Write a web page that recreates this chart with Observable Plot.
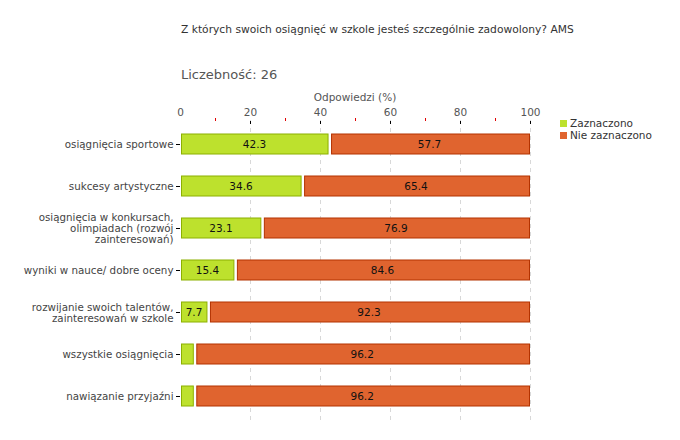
<!DOCTYPE html>
<html>
<head>
<meta charset="utf-8">
<script src="https://cdn.jsdelivr.net/npm/d3@7"></script>
<script src="https://cdn.jsdelivr.net/npm/@observablehq/plot@0.6"></script>
<style>
  body { margin: 0; background: #fff; }
  #wrap { position: relative; width: 680px; height: 440px; font-family: "DejaVu Sans", sans-serif; }
  #title { position: absolute; left: 181px; top: 23px; font-size: 10.7px; color: #333; white-space: nowrap; }
  #count { position: absolute; left: 181px; top: 67px; font-size: 13px; color: #555; white-space: nowrap; }
  #axlabel { position: absolute; left: 255px; width: 200px; text-align: center; top: 91px; font-size: 10.5px; color: #555; white-space: nowrap; }
  #legend { position: absolute; left: 560px; top: 118px; font-size: 10.5px; color: #333; }
  #legend div { height: 11.5px; line-height: 11.5px; white-space: nowrap; }
  #legend span.sw { display: inline-block; width: 7px; height: 7px; margin-right: 3px; vertical-align: 0px; }
</style>
</head>
<body>
<div id="wrap"></div>
<script>
const title = "Z których swoich osiągnięć w szkole jesteś szczególnie zadowolony? AMS";
const countLabel = "Liczebność: 26";
const axisLabel = "Odpowiedzi (%)";
const categories = [
  "osiągnięcia sportowe",
  "sukcesy artystyczne",
  "osiągnięcia w konkursach,\nolimpiadach (rozwój\nzainteresowań)",
  "wyniki w nauce/ dobre oceny",
  "rozwijanie swoich talentów,\nzainteresowań w szkole",
  "wszystkie osiągnięcia",
  "nawiązanie przyjaźni"
];
const seriesNames = ["Zaznaczono", "Nie zaznaczono"];
const zaznaczono = [42.3, 34.6, 23.1, 15.4, 7.7, 3.8, 3.8];
const nieZaznaczono = [57.7, 65.4, 76.9, 84.6, 92.3, 96.2, 96.2];
const majorTicks = [0, 20, 40, 60, 80, 100];
const minorTicks = [10, 30, 50, 70, 90];
const fills = ["#bde12d", "#e0642f"];
const strokes = ["#8cb000", "#b33200"];

const rows = [];
categories.forEach((c, i) => {
  rows.push({cat: c, series: seriesNames[0], value: zaznaczono[i], x1: 0, x2: zaznaczono[i]});
  rows.push({cat: c, series: seriesNames[1], value: nieZaznaczono[i], x1: zaznaczono[i], x2: zaznaczono[i] + nieZaznaczono[i]});
});
const first = rows.filter(d => d.series === seriesNames[0]);
const second = rows.filter(d => d.series === seriesNames[1]);

const chart = Plot.plot({
  width: 680,
  height: 440,
  marginTop: 120,
  marginBottom: 20,
  marginLeft: 180,
  marginRight: 150,
  style: {fontFamily: "DejaVu Sans, sans-serif", fontSize: "10px", color: "#444", background: "#fff"},
  x: {domain: [0, 100]},
  y: {domain: categories, paddingInner: 0.53, paddingOuter: 0.265},
  marks: [
    Plot.gridX(majorTicks.slice(1), {stroke: "#d8d8d8", strokeOpacity: 1, strokeDasharray: "4,4"}),
    Plot.barX(first, {x1: "x1", x2: "x2", y: "cat", fill: fills[0], stroke: strokes[0], strokeWidth: 1, insetLeft: 1.5, insetRight: 0}),
    Plot.barX(second, {x1: "x1", x2: "x2", y: "cat", fill: fills[1], stroke: strokes[1], strokeWidth: 1, insetLeft: 3.5, insetRight: 0.5}),
    Plot.text(rows.filter(d => d.value >= 5), {x: d => (d.x1 + d.x2) / 2, y: "cat", text: d => d.value.toFixed(1), fill: "#111", fontSize: 10.5}),
    Plot.axisX({anchor: "top", ticks: majorTicks, tickSize: 0, tickPadding: 5, line: true, label: null, fill: "#555", stroke: "#000", fontSize: 10.5}),
    Plot.axisX({anchor: "top", ticks: majorTicks.slice(1), tickSize: -3, tickFormat: () => "", stroke: "#000", label: null}),
    Plot.axisX({anchor: "top", ticks: minorTicks, tickSize: 3, tickFormat: () => "", stroke: "#e00000", label: null}),
    Plot.axisY({anchor: "left", tickSize: 4, tickPadding: 3, line: true, label: null, stroke: "#000", fill: "#444", fontSize: 10.3, lineHeight: 1.08})
  ]
});

const wrap = document.getElementById("wrap");
wrap.appendChild(chart);
const t = document.createElement("div"); t.id = "title"; t.textContent = title; wrap.appendChild(t);
const n = document.createElement("div"); n.id = "count"; n.textContent = countLabel; wrap.appendChild(n);
const al = document.createElement("div"); al.id = "axlabel"; al.textContent = axisLabel; wrap.appendChild(al);
const lg = document.createElement("div"); lg.id = "legend";
seriesNames.forEach((s, i) => {
  const row = document.createElement("div");
  const sw = document.createElement("span"); sw.className = "sw"; sw.style.background = fills[i];
  row.appendChild(sw);
  row.appendChild(document.createTextNode(s));
  lg.appendChild(row);
});
wrap.appendChild(lg);
</script>
</body>
</html>
